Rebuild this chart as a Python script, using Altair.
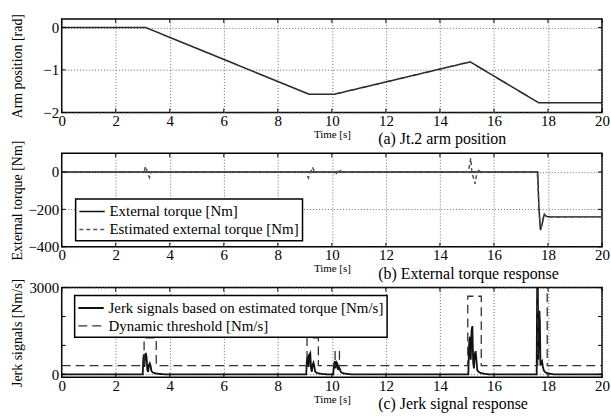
import altair as alt
import pandas as pd

# ---- (a) Jt.2 arm position ----
pos_t = [0, 3.1, 9.15, 10.1, 15.12, 17.65, 20]
pos_v = [0, 0, -1.57, -1.57, -0.81, -1.77, -1.77]

# ---- (b) external torque ----
ext_t = [0, 17.62, 17.66, 17.72, 17.78, 17.86, 17.95, 18.05, 20]
ext_v = [0, 0, -180, -310, -280, -228, -238, -240, -240]

est_t = [0, 3.05, 3.1, 3.15, 3.2, 3.25, 3.3, 3.4,
         9.05, 9.13, 9.2, 9.28, 9.33, 9.4,
         10.05, 10.13, 10.2, 10.25, 10.32, 10.4,
         15.05, 15.1, 15.14, 15.18, 15.24, 15.3, 15.35, 15.43, 15.48, 15.55,
         17.6, 17.65, 17.7, 17.75, 17.8, 17.87, 17.95, 18.05, 20]
est_v = [0, 0, 30, 10, -15, -30, -5, 0,
         0, -32, -10, 26, 10, 0,
         0, -15, 0, 15, 5, 0,
         0, 40, 74, 0, -32, -63, -20, 8, 4, 0,
         0, -140, -300, -300, -255, -225, -240, -242, -240]

# ---- (c) jerk signals and dynamic threshold ----
jerk_t = [0,
          3.00, 3.02, 3.04, 3.06, 3.08, 3.11, 3.14, 3.17, 3.20, 3.23, 3.26, 3.29,
          3.32, 3.35, 3.38, 3.42, 3.47, 3.55, 3.65, 3.80,
          9.05, 9.08, 9.11, 9.14, 9.17, 9.20, 9.23, 9.26, 9.29, 9.32, 9.35, 9.38,
          9.42, 9.47, 9.55, 9.65, 9.80,
          10.05, 10.08, 10.11, 10.14, 10.17, 10.20, 10.23, 10.26, 10.29, 10.33,
          10.38, 10.45, 10.55, 10.70,
          15.05, 15.08, 15.11, 15.14, 15.17, 15.20, 15.23, 15.26, 15.29, 15.32,
          15.35, 15.38, 15.42, 15.47, 15.55, 15.65, 15.80,
          17.58, 17.60, 17.62, 17.64, 17.66, 17.68, 17.70, 17.72, 17.75, 17.78,
          17.81, 17.85, 17.90, 17.97, 18.05, 18.20,
          20]
jerk_v = [0,
          0, 560, 690, 250, 520, 740, 600, 150, 80, 320, 380, 300,
          120, 80, 60, 45, 30, 20, 10, 0,
          0, 550, 600, 250, 680, 730, 200, 90, 330, 400, 280, 100,
          60, 40, 25, 10, 0,
          0, 350, 450, 200, 420, 380, 150, 250, 200, 80,
          50, 30, 15, 0,
          0, 1050, 1300, 500, 1500, 1670, 400, 200, 700, 800,
          500, 150, 90, 60, 35, 15, 0,
          0, 3500, 3600, 500, 2100, 2200, 1800, 300, 400, 450,
          250, 120, 70, 40, 20, 0,
          0]

thr_t = [0, 3.05, 3.05, 3.5, 3.5, 9.08, 9.08, 9.5, 9.5, 10.12, 10.12, 10.28, 10.28,
         15.03, 15.03, 15.53, 15.53, 17.62, 17.62, 17.97, 17.97, 20]
thr_v = [300, 300, 1260, 1260, 300, 300, 1260, 1260, 300, 300, 820, 820, 300,
         300, 2700, 2700, 300, 300, 3500, 3500, 300, 300]

x_ticks = [0, 2, 4, 6, 8, 10, 12, 14, 16, 18, 20]
FONT = "Liberation Serif, Times New Roman, DejaVu Serif, serif"
W = 543
GRID = "#6a6a6a"


def series_frame(t, v, name):
    return pd.DataFrame({"t": t, "v": v, "series": name, "idx": range(len(t))})


def panel(df, names, colors, dashes, widths, ydom, yticks, ytitle, caption, h,
          legend_xy=None):
    xs = alt.Scale(domain=[0, 20], nice=False, zero=False)
    ys = alt.Scale(domain=ydom, nice=False, zero=False)
    x_axis = alt.Axis(values=x_ticks, title="Time [s]", titleFontSize=11,
                      titleFont=FONT, titleFontWeight="normal", titlePadding=0,
                      labelFont=FONT, labelFontSize=15, labelPadding=1,
                      ticks=False, domain=False, format="d",
                      gridDash=[1, 2], gridColor=GRID, gridWidth=1,
                      labelFlush=False)
    y_axis = alt.Axis(values=yticks, title=ytitle, titleFont=FONT,
                      titleFontSize=14, titleFontWeight="normal", titleAngle=270,
                      titleX=-44, titleY=h / 2, titleAlign="center",
                      titleBaseline="middle", labelFont=FONT, labelFontSize=15,
                      labelPadding=3, ticks=False, domain=False, format="d",
                      gridDash=[1, 2], gridColor=GRID, gridWidth=1,
                      labelFlush=False)

    if legend_xy is None:
        leg = None
    else:
        # a long horizontal stroke as the legend key, on a compact row height
        leg = alt.Legend(title=None, orient="none", legendX=legend_xy[0],
                         legendY=legend_xy[1], direction="vertical",
                         symbolType="M-1.5,0H1.5", symbolSize=289,
                         symbolStrokeWidth=1.4, symbolOffset=4,
                         labelFontSize=15, labelFont=FONT, labelColor="black",
                         padding=3, rowPadding=0, labelOffset=8, labelLimit=0,
                         strokeColor="black", fillColor="white")

    if len(names) == 1:
        width_enc = alt.value(widths[0])
    else:
        width_enc = alt.StrokeWidth("series:N",
                                    scale=alt.Scale(domain=names, range=widths),
                                    legend=None)

    lines = alt.Chart(df).mark_line(clip=True).encode(
        x=alt.X("t:Q", scale=xs, axis=x_axis),
        y=alt.Y("v:Q", scale=ys, axis=y_axis),
        color=alt.Color("series:N", scale=alt.Scale(domain=names, range=colors),
                        legend=leg),
        strokeDash=alt.StrokeDash("series:N",
                                  scale=alt.Scale(domain=names, range=dashes),
                                  legend=leg),
        strokeWidth=width_enc,
        order="idx:Q",
    )

    # inward tick marks on all four sides of the frame
    xt = pd.DataFrame({"t": x_ticks})
    yt = pd.DataFrame({"v": yticks})
    top_ticks = alt.Chart(xt).mark_rule(color="black", strokeWidth=1).encode(
        x=alt.X("t:Q", scale=xs), y=alt.value(0), y2=alt.value(4))
    bot_ticks = alt.Chart(xt).mark_rule(color="black", strokeWidth=1).encode(
        x=alt.X("t:Q", scale=xs), y=alt.value(h - 4), y2=alt.value(h))
    left_ticks = alt.Chart(yt).mark_rule(color="black", strokeWidth=1).encode(
        y=alt.Y("v:Q", scale=ys), x=alt.value(0), x2=alt.value(4))
    right_ticks = alt.Chart(yt).mark_rule(color="black", strokeWidth=1).encode(
        y=alt.Y("v:Q", scale=ys), x=alt.value(W - 4), x2=alt.value(W))

    cap = alt.Chart(pd.DataFrame({"caption": [caption]})).mark_text(
        align="left", baseline="middle", fontSize=16, font=FONT, color="black"
    ).encode(text="caption:N", x=alt.value(318), y=alt.value(h + 27))

    return alt.layer(lines, top_ticks, bot_ticks, left_ticks, right_ticks,
                     cap).properties(width=W, height=h)


pos_df = series_frame(pos_t, pos_v, "Arm position [rad]")
chart_a = panel(pos_df, ["Arm position [rad]"], ["#2a2a2a"], [[1, 0]], [1.6],
                [-2, 0.2], [-2, -1, 0], "Arm position [rad]",
                "(a) Jt.2 arm position", 94)

tq_names = ["External torque [Nm]", "Estimated external torque [Nm]"]
tq_df = pd.concat([series_frame(ext_t, ext_v, tq_names[0]),
                   series_frame(est_t, est_v, tq_names[1])])
chart_b = panel(tq_df, tq_names, ["#111111", "#555555"], [[1, 0], [4, 3]],
                [1.4, 1.5], [-400, 100], [-400, -200, 0], "External torque [Nm]",
                "(b) External torque response", 94, legend_xy=(14, 46))

jk_names = ["Jerk signals based on estimated torque [Nm/s]",
            "Dynamic threshold [Nm/s]"]
jk_df = pd.concat([series_frame(jerk_t, jerk_v, jk_names[0]),
                   series_frame(thr_t, thr_v, jk_names[1])])
chart_c = panel(jk_df, jk_names, ["#111111", "#333333"], [[1, 0], [9, 5]],
                [1.8, 1.3], [-100, 3000], [0, 1000, 2000, 3000],
                "Jerk signals [Nm/s]", "(c) Jerk signal response", 90,
                legend_xy=(13, 8))

chart = alt.vconcat(chart_a, chart_b, chart_c, spacing=41, bounds="flush").resolve_scale(
    color="independent", strokeDash="independent", strokeWidth="independent",
    x="independent", y="independent"
).resolve_legend(color="independent", strokeDash="independent").properties(
    padding={"left": 10, "top": 11, "right": 0, "bottom": 0}
).configure(font=FONT).configure_view(
    stroke="black", strokeWidth=1.5
).configure_legend(strokeWidth=1.5)

chart.save("out.html", embed_options={"renderer": "svg", "actions": False})
